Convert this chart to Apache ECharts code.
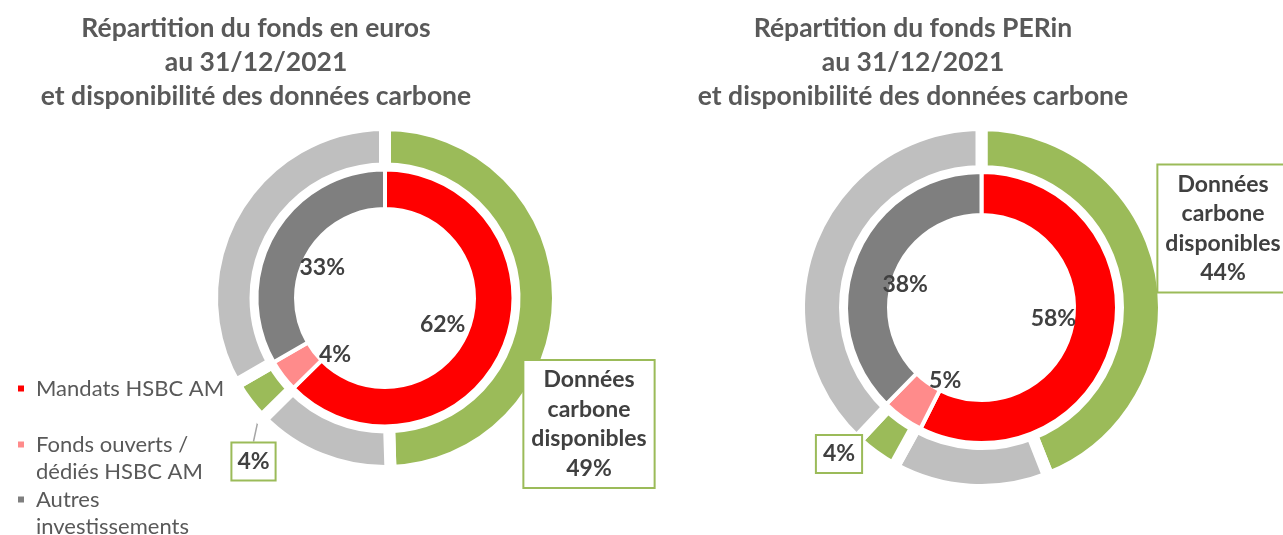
<!DOCTYPE html>
<html>
<head>
<meta charset="utf-8">
<script src="https://cdn.jsdelivr.net/npm/echarts@6/dist/echarts.min.js"></script>
<style>
html, body { margin: 0; padding: 0; background: #fff; }
#chart { width: 1283px; height: 535px; }
</style>
</head>
<body>
<div id="chart"></div>
<script>
// anneau intérieur : répartition du fonds
var categories = ['Mandats HSBC AM', 'Fonds ouverts / dédiés HSBC AM', 'Autres investissements'];
// ligne vide en tête pour que le carré de légende soit aligné sur la 1re ligne
var legendLabels = ['Mandats HSBC AM', '\nFonds ouverts /\ndédiés HSBC AM', '\nAutres\ninvestissements'];
// anneau extérieur : disponibilité des données carbone
var carbonCategories = ['Données carbone disponibles', 'Mandats sans données', 'Fonds avec données', 'Autres sans données'];

var eurosInner = [62, 4, 33];
var eurosOuter = [49, 13, 4, 33];
var perinInner = [58, 5, 38];
var perinOuter = [44, 14, 4, 38];

var titles = [
    'Répartition du fonds en euros\nau 31/12/2021\net disponibilité des données carbone',
    'Répartition du fonds PERin\nau 31/12/2021\net disponibilité des données carbone'
];

var FONT = 'Lato';
var innerColors = ['#FF0000', '#FF8B8B', '#7F7F7F'];
var outerColors = ['#9BBB59', '#BFBFBF', '#9BBB59', '#BFBFBF'];

// géométrie des deux graphiques
var left = {cx: 385, cy: 298, inner: [91, 126.5], outer: [135.5, 167], labelR: 66,
    pctShift: [[-6, 0], [5, 15], [-3, 4]],
    bigBox: [204, 126], smallBox: [-131.5, 163.5], smallPad: 5, leader: true};
var right = {cx: 981.5, cy: 307.5, inner: [94.5, 133.5], outer: [142.5, 176.5], labelR: 73,
    pctShift: [[-2, -6], [8, 11], [-6, 6]],
    bigBox: [241.5, -79], smallBox: [-142.5, 146.5], smallPad: 6, leader: false};

var boxStyle = {
    fontFamily: FONT, fontSize: 23, fontWeight: 'bold', color: '#404040',
    backgroundColor: '#fff', borderColor: '#9BBB59', borderWidth: 2
};

/*point au milieu d'un secteur de l'anneau extérieur (angle depuis midi, sens horaire)*/
function sliceCenter(g, values, idx) {
    var total = 0, before = 0;
    values.forEach(function (v, i) { total += v; if (i < idx) before += v; });
    var a = (before + values[idx] / 2) / total * 2 * Math.PI;
    var r = (g.outer[0] + g.outer[1]) / 2;
    return [g.cx + r * Math.sin(a), g.cy - r * Math.cos(a)];
}

function buildSeries(g, inner, outer) {
    var ob = 12, ib = 4;
    return [
        /*anneau extérieur - données carbone*/
        {
            type: 'pie', silent: true, center: [g.cx, g.cy],
            radius: [g.outer[0] - ob / 2, g.outer[1] + ob / 2],
            startAngle: 90, clockwise: true, avoidLabelOverlap: false,
            itemStyle: {borderColor: '#fff', borderWidth: ob},
            label: {show: false}, labelLine: {show: false},
            data: outer.map(function (v, i) {
                var d = {name: carbonCategories[i], value: v, itemStyle: {color: outerColors[i]}};
                if (i === 0) {
                    d.label = Object.assign({show: true, position: 'outside', lineHeight: 29.5,
                        padding: [5, 7, 3, 7], align: 'center',
                        formatter: 'Données\ncarbone\ndisponibles\n{c}%'}, boxStyle);
                }
                if (i === 2) {
                    d.label = Object.assign({show: true, position: 'outside', lineHeight: 26,
                        padding: [6, g.smallPad, 4, g.smallPad], formatter: '{c}%'}, boxStyle);
                    d.labelLine = {show: g.leader, lineStyle: {color: '#A6A6A6', width: 1.5}};
                }
                return d;
            }),
            labelLayout: function (p) {
                var off = p.dataIndex === 0 ? g.bigBox : g.smallBox;
                var res = {x: g.cx + off[0], y: g.cy + off[1], align: 'center', verticalAlign: 'middle'};
                if (p.dataIndex === 2 && g.leader) {
                    var s = sliceCenter(g, outer, 2);
                    var top = [g.cx + off[0], g.cy + off[1] - p.labelRect.height / 2];
                    res.labelLinePoints = [s, [(s[0] + top[0]) / 2, (s[1] + top[1]) / 2], top];
                }
                return res;
            }
        },
        /*anneau intérieur - répartition*/
        {
            type: 'pie', silent: true, center: [g.cx, g.cy],
            radius: [g.inner[0] - ib / 2, g.inner[1] + ib / 2],
            startAngle: 90, clockwise: true,
            itemStyle: {borderColor: '#fff', borderWidth: ib},
            label: {show: false}, labelLine: {show: false},
            data: inner.map(function (v, i) {
                return {name: categories[i], value: v, itemStyle: {color: innerColors[i]}};
            })
        },
        /*étiquettes de pourcentage dans le trou*/
        {
            type: 'pie', silent: true, center: [g.cx, g.cy],
            radius: [0, g.labelR * 2],
            startAngle: 90, clockwise: true,
            itemStyle: {color: 'rgba(0,0,0,0)'},
            label: {show: true, position: 'inside', formatter: '{c}%',
                fontFamily: FONT, fontSize: 23, fontWeight: 'bold', color: '#404040'},
            labelLine: {show: false},
            data: inner.map(function (v, i) { return {name: 'pct' + i, value: v}; }),
            labelLayout: function (p) {
                var s = g.pctShift[p.dataIndex];
                return {dx: s[0], dy: s[1]};
            }
        }
    ];
}

function buildLegend(i, top) {
    return {
        orient: 'vertical', left: 18, top: top, padding: 0,
        selectedMode: false,
        icon: 'path://M0,0h10v10h-10z', itemWidth: 20, itemHeight: 6,
        itemStyle: {borderWidth: 0},
        data: [categories[i]],
        formatter: function (n) { return legendLabels[categories.indexOf(n)]; },
        textStyle: {fontFamily: FONT, fontSize: 22, color: '#595959', lineHeight: 27}
    };
}

var titleStyle = {fontFamily: FONT, fontSize: 26.5, fontWeight: 'bold', color: '#595959', lineHeight: 34};

var option = {
    backgroundColor: '#fff',
    animation: false,
    title: [
        {text: titles[0], left: 256, top: 11, textAlign: 'center', padding: 0, textStyle: titleStyle},
        {text: titles[1], left: 913, top: 11, textAlign: 'center', padding: 0, textStyle: titleStyle}
    ],
    legend: [buildLegend(0, 375), buildLegend(1, 404), buildLegend(2, 459)],
    series: buildSeries(left, eurosInner, eurosOuter).concat(buildSeries(right, perinInner, perinOuter))
};

var myChart = echarts.init(document.getElementById('chart'));
myChart.setOption(option);
</script>
</body>
</html>
